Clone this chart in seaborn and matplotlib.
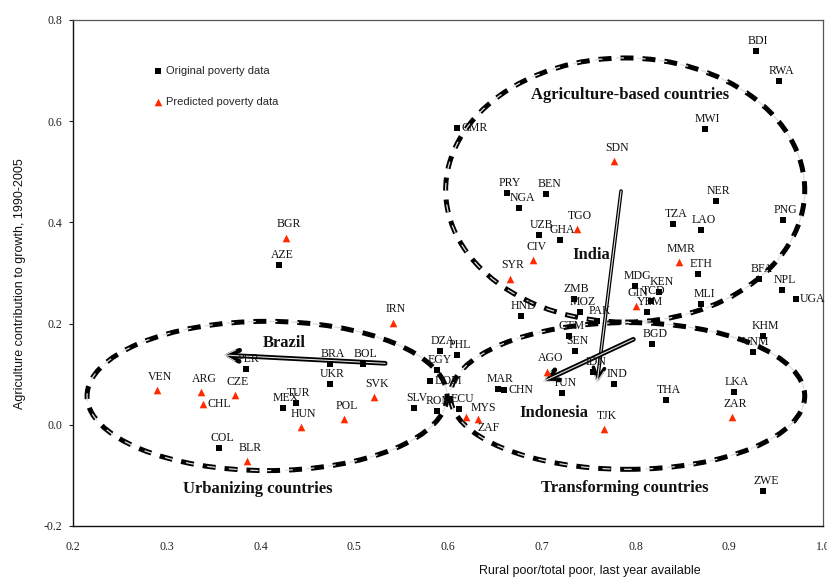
import matplotlib
matplotlib.use("Agg")
import matplotlib.pyplot as plt
import seaborn as sns
import pandas as pd
from matplotlib.patches import Ellipse

sns.set_theme(style="white")
plt.rcParams["font.family"] = ["Liberation Serif", "DejaVu Serif"]
plt.rcParams["axes.unicode_minus"] = False

# Countries with observed poverty data
orig_codes = ["AZE", "CMR", "BDI", "RWA", "MWI", "PRY", "BEN", "NGA", "NER", "TZA",
              "LAO", "PNG", "UZB", "GHA", "ETH", "MDG", "KEN", "TCD", "YEM", "MLI",
              "BFA", "NPL", "UGA", "KHM", "VNM", "BGD", "ZMB", "HND", "MOZ", "PAK",
              "GTM", "SEN", "IDN", "IND", "TUN", "THA", "LKA", "ZWE", "MAR", "CHN",
              "DZA", "PHL", "EGY", "DOM", "SLV", "ROM", "ECU", "PER", "BRA", "BOL",
              "UKR", "TUR", "MEX", "COL"]
orig_x = [0.420, 0.610, 0.928, 0.953, 0.874, 0.663, 0.705, 0.676, 0.886, 0.840,
          0.870, 0.957, 0.697, 0.719, 0.867, 0.799, 0.825, 0.816, 0.812, 0.870,
          0.932, 0.956, 0.971, 0.936, 0.925, 0.818, 0.734, 0.678, 0.741, 0.759,
          0.729, 0.735, 0.755, 0.777, 0.722, 0.833, 0.905, 0.936, 0.653, 0.660,
          0.591, 0.610, 0.588, 0.581, 0.564, 0.588, 0.612, 0.384, 0.474, 0.509,
          0.474, 0.438, 0.424, 0.356]
orig_y = [0.316, 0.586, 0.739, 0.680, 0.585, 0.459, 0.456, 0.429, 0.443, 0.396,
          0.384, 0.405, 0.376, 0.365, 0.298, 0.275, 0.263, 0.245, 0.222, 0.238,
          0.288, 0.266, 0.249, 0.175, 0.144, 0.159, 0.249, 0.216, 0.222, 0.205,
          0.176, 0.145, 0.105, 0.081, 0.063, 0.049, 0.064, -0.130, 0.070, 0.068,
          0.146, 0.138, 0.108, 0.087, 0.034, 0.028, 0.031, 0.110, 0.120, 0.120,
          0.080, 0.043, 0.033, -0.045]

# Countries with predicted poverty data
pred_codes = ["SDN", "TGO", "CIV", "SYR", "MMR", "GIN", "AGO", "TJK", "ZAR", "MYS",
              "ZAF", "BGR", "IRN", "VEN", "ARG", "CHL", "CZE", "HUN", "POL", "SVK",
              "BLR"]
pred_x = [0.777, 0.738, 0.691, 0.666, 0.846, 0.800, 0.706, 0.766, 0.903, 0.619,
          0.632, 0.427, 0.541, 0.290, 0.337, 0.339, 0.373, 0.443, 0.489, 0.521,
          0.386]
pred_y = [0.521, 0.387, 0.326, 0.289, 0.321, 0.235, 0.105, -0.009, 0.016, 0.015,
          0.011, 0.370, 0.202, 0.069, 0.064, 0.041, 0.059, -0.004, 0.011, 0.054,
          -0.071]

x_ticks = [0.2, 0.3, 0.4, 0.5, 0.6, 0.7, 0.8, 0.9, 1.0]
y_ticks = [-0.2, 0.0, 0.2, 0.4, 0.6, 0.8]

series_names = ["Original poverty data", "Predicted poverty data"]
x_title = "Rural poor/total poor, last year available"
y_title = "Agriculture contribution to growth, 1990-2005"

# Country-group outlines: (centre x, centre y, width, height)
groups = {
    "Agriculture-based countries": ((0.789, 0.464, 0.383, 0.522), (0.794, 0.652)),
    "Urbanizing countries": ((0.407, 0.057, 0.384, 0.295), (0.397, -0.127)),
    "Transforming countries": ((0.7915, 0.057, 0.378, 0.290), (0.789, -0.125)),
}

# Country trajectories: (start, end, label position)
paths = {
    "Brazil": ((0.533, 0.1215), (0.360, 0.138), (0.425, 0.162), 3.4),
    "India": ((0.7846, 0.462), (0.759, 0.0826), (0.7525, 0.336), 2.6),
    "Indonesia": ((0.7977, 0.169), (0.7007, 0.085), (0.713, 0.023), 3.4),
}

# Label placement for names not set directly above their marker
label_side = {"CMR": "right", "UGA": "right", "CHL": "right", "DOM": "right",
              "CHN": "right", "ZAF": "below_right", "MYS": "above_right"}

df_orig = pd.DataFrame({"code": orig_codes, "x": orig_x, "y": orig_y})
df_pred = pd.DataFrame({"code": pred_codes, "x": pred_x, "y": pred_y})

fig = plt.figure(figsize=(8.27, 5.79), dpi=100)
ax = fig.add_axes([73 / 827, 1 - 526 / 579, 750 / 827, 506 / 579])

red = "#ff2a00"
sns.scatterplot(data=df_orig, x="x", y="y", marker="s", s=13, color="black",
                linewidth=0, ax=ax, label=series_names[0], zorder=4)
sns.scatterplot(data=df_pred, x="x", y="y", marker="^", s=30, color=red,
                linewidth=0, ax=ax, label=series_names[1], zorder=4)


def place_labels(df, up):
    for code, x, y in zip(df["code"], df["x"], df["y"]):
        side = label_side.get(code, "above")
        if side == "right":
            off, ha, va = (3, 0), "left", "center"
        elif side == "below_right":
            off, ha, va = (7.5, -6), "center", "center"
        elif side == "above_right":
            off, ha, va = (12.5, 6.5), "center", "center"
        else:
            off, ha, va = (2, up), "center", "center"
        ax.annotate(code, (x, y), xytext=off, textcoords="offset points",
                    ha=ha, va=va, fontsize=8.5, color="#111111", zorder=5)


place_labels(df_orig, 7.2)
place_labels(df_pred, 9.5)

# Dashed group outlines with a hollow core
for name, ((cx, cy, w, h), (tx, ty)) in groups.items():
    ax.add_patch(Ellipse((cx, cy), w, h, fill=False, edgecolor="black", lw=3.6,
                         linestyle=(0, (2.6, 1.8)), zorder=3))
    ax.add_patch(Ellipse((cx, cy), w, h, fill=False, edgecolor="#dddddd", lw=0.9,
                         linestyle=(55, (6.4, 10.9)), zorder=3))
    ax.text(tx, ty, name, ha="center", va="center", fontsize=12,
            fontweight="bold", color="#111111", zorder=6)

for name, (start, end, lab, lw) in paths.items():
    ax.annotate("", xy=end, xytext=start,
                arrowprops=dict(arrowstyle="->", lw=lw, color="black",
                                mutation_scale=20, shrinkA=0, shrinkB=0),
                zorder=3)
    ax.annotate("", xy=end, xytext=start,
                arrowprops=dict(arrowstyle="->", lw=0.8, color="#e0e0e0",
                                mutation_scale=20, shrinkA=0, shrinkB=0),
                zorder=3)
    ax.text(lab[0], lab[1], name, ha="center", va="center", fontsize=12,
            fontweight="bold", color="#111111", zorder=6)

ax.set_xlim(0.2, 1.0)
ax.set_ylim(-0.2, 0.8)
ax.set_xticks(x_ticks)
ax.set_yticks(y_ticks)
ax.set_xticklabels([f"{v:.1f}" for v in x_ticks])
ax.set_yticklabels([f"{v:.1f}" for v in y_ticks])
ax.set_xlabel("")
ax.set_ylabel("")
ax.tick_params(axis="x", length=0, pad=11, labelsize=8.5, colors="#222222")
ax.tick_params(axis="y", left=True, length=3, width=0.8, pad=5, labelsize=8.5,
               colors="#222222")

for s in ["left", "bottom"]:
    ax.spines[s].set_color("#111111")
    ax.spines[s].set_linewidth(1.0)
for s in ["top", "right"]:
    ax.spines[s].set_color("#555555")
    ax.spines[s].set_linewidth(0.9)

sans = {"family": ["Liberation Sans", "DejaVu Sans"], "size": 9}
fig.text(590 / 827, 1 - 571 / 579, x_title, ha="center", va="center",
         fontdict=sans, color="#111111")
fig.text(20 / 827, 1 - 284 / 579, y_title, ha="center", va="center",
         rotation=90, fontdict=sans, color="#111111")

ax.legend(loc="upper left", bbox_to_anchor=(153.8 / 827, 1 - 65.5 / 579),
          bbox_transform=fig.transFigure, frameon=False, handletextpad=0.3,
          labelspacing=1.9, handlelength=0.8, borderaxespad=0, borderpad=0,
          prop={"family": ["Liberation Sans", "DejaVu Sans"], "size": 8})

fig.savefig("out.png", dpi=100)
